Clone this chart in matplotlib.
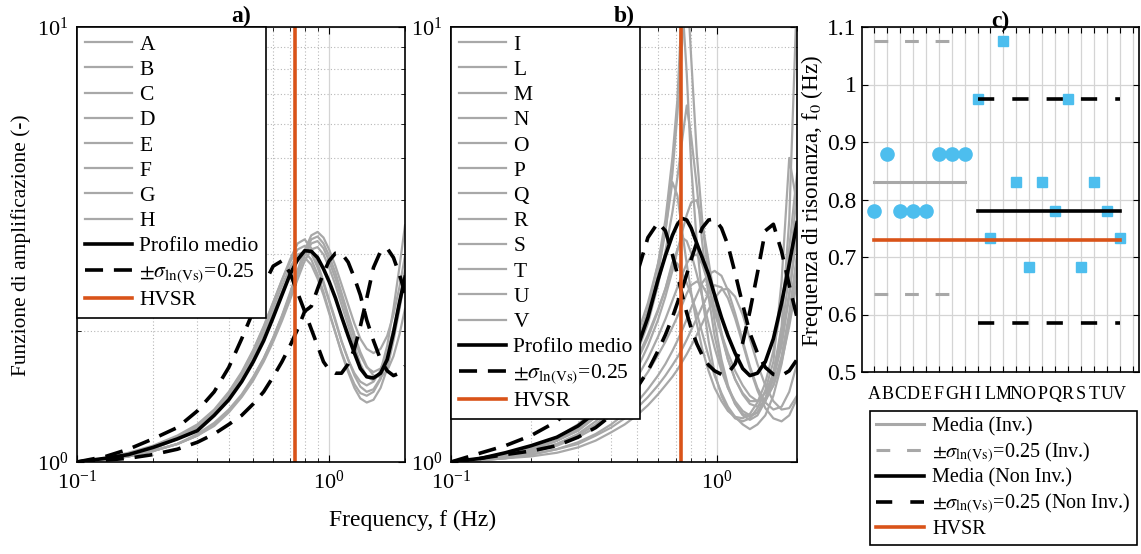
import matplotlib
matplotlib.use('Agg')
import matplotlib.pyplot as plt
from matplotlib.ticker import FixedLocator, NullFormatter, LogFormatterMathtext

plt.rcParams['font.family'] = ['Liberation Serif', 'DejaVu Serif']
plt.rcParams['mathtext.fontset'] = 'stix'

# ---------------- Data ----------------
# Panel a) frequency grid (Hz) and amplification curves
freq_a = [0.10, 0.13, 0.16, 0.20, 0.25, 0.30, 0.35, 0.40, 0.45, 0.50, 0.55, 0.60,
          0.65, 0.70, 0.75, 0.80, 0.85, 0.90, 0.95, 1.00, 1.06, 1.12, 1.19, 1.26,
          1.33, 1.41, 1.50, 1.60, 1.70, 1.80, 1.90, 2.00]
labels_a = ['A', 'B', 'C', 'D', 'E', 'F', 'G', 'H']
amp_A = [1.00, 1.02, 1.04, 1.08, 1.14, 1.21, 1.31, 1.44, 1.60, 1.80, 2.04, 2.32, 2.62, 2.92, 3.18, 3.25,
         3.10, 2.86, 2.60, 2.36, 2.12, 1.90, 1.72, 1.58, 1.49, 1.45, 1.47, 1.56, 1.72, 1.97, 2.30, 2.70]
amp_B = [1.00, 1.01, 1.03, 1.06, 1.10, 1.15, 1.22, 1.31, 1.42, 1.55, 1.72, 1.92, 2.15, 2.42, 2.72, 3.02,
         3.25, 3.30, 3.18, 2.98, 2.72, 2.45, 2.18, 1.96, 1.79, 1.66, 1.58, 1.57, 1.62, 1.75, 1.96, 2.25]
amp_C = [1.00, 1.02, 1.04, 1.08, 1.14, 1.21, 1.31, 1.43, 1.58, 1.77, 2.00, 2.26, 2.54, 2.80, 3.00, 3.04,
         2.92, 2.70, 2.46, 2.22, 1.98, 1.78, 1.61, 1.48, 1.40, 1.37, 1.39, 1.48, 1.64, 1.90, 2.24, 2.65]
amp_D = [1.00, 1.02, 1.05, 1.09, 1.15, 1.22, 1.32, 1.45, 1.61, 1.81, 2.05, 2.33, 2.62, 2.88, 3.08, 3.14,
         3.02, 2.80, 2.57, 2.34, 2.10, 1.89, 1.72, 1.60, 1.53, 1.50, 1.53, 1.62, 1.78, 2.02, 2.34, 2.75]
amp_E = [1.00, 1.02, 1.04, 1.07, 1.13, 1.20, 1.29, 1.41, 1.55, 1.73, 1.95, 2.20, 2.46, 2.72, 2.90, 2.95,
         2.84, 2.64, 2.42, 2.20, 1.98, 1.79, 1.63, 1.51, 1.44, 1.42, 1.45, 1.55, 1.72, 1.98, 2.32, 2.75]
amp_F = [1.00, 1.01, 1.03, 1.06, 1.10, 1.15, 1.22, 1.31, 1.42, 1.56, 1.73, 1.93, 2.17, 2.45, 2.76, 3.07,
         3.32, 3.38, 3.28, 3.08, 2.82, 2.56, 2.30, 2.08, 1.92, 1.82, 1.78, 1.82, 1.95, 2.18, 2.52, 2.98]
amp_G = [1.00, 1.01, 1.03, 1.06, 1.10, 1.16, 1.23, 1.32, 1.43, 1.57, 1.73, 1.93, 2.16, 2.42, 2.70, 2.98,
         3.18, 3.22, 3.10, 2.90, 2.64, 2.38, 2.13, 1.92, 1.76, 1.65, 1.61, 1.64, 1.76, 1.97, 2.28, 2.70]
amp_H = [1.00, 1.01, 1.03, 1.06, 1.10, 1.15, 1.21, 1.30, 1.41, 1.54, 1.70, 1.89, 2.11, 2.36, 2.63, 2.90,
         3.08, 3.12, 3.00, 2.80, 2.55, 2.30, 2.06, 1.85, 1.68, 1.57, 1.54, 1.62, 1.85, 2.25, 2.80, 3.50]
mean_a = [1.00, 1.02, 1.04, 1.08, 1.13, 1.18, 1.28, 1.39, 1.53, 1.70, 1.90, 2.15, 2.42, 2.70, 2.92, 3.06,
          3.05, 2.95, 2.78, 2.60, 2.38, 2.16, 1.95, 1.78, 1.64, 1.57, 1.56, 1.60, 1.72, 1.98, 2.32, 2.66]
sig_lo_a = [1.00, 1.03, 1.07, 1.13, 1.20, 1.31, 1.45, 1.65, 1.92, 2.22, 2.55, 2.82, 2.90, 2.72, 2.45, 2.22,
            2.02, 1.85, 1.70, 1.63, 1.60, 1.60, 1.68, 1.82, 2.05, 2.38, 2.80, 3.05, 3.10, 2.95, 2.70, 2.45]
sig_hi_a = [1.00, 1.01, 1.02, 1.04, 1.07, 1.11, 1.16, 1.22, 1.28, 1.36, 1.45, 1.57, 1.70, 1.85, 2.02, 2.22,
            2.28, 2.50, 2.72, 2.90, 3.02, 3.02, 2.88, 2.65, 2.42, 2.12, 1.90, 1.72, 1.62, 1.58, 1.60, 1.66]
amps_a = [amp_A, amp_B, amp_C, amp_D, amp_E, amp_F, amp_G, amp_H]

# Panel b) frequency grid (Hz) and amplification curves
freq_b = [0.10, 0.13, 0.16, 0.20, 0.25, 0.30, 0.35, 0.40, 0.45, 0.50, 0.55, 0.60,
          0.64, 0.68, 0.71, 0.74, 0.77, 0.80, 0.84, 0.88, 0.93, 0.98, 1.04, 1.10,
          1.17, 1.25, 1.33, 1.42, 1.52, 1.63, 1.75, 1.87, 2.00]
labels_b = ['I', 'L', 'M', 'N', 'O', 'P', 'Q', 'R', 'S', 'T', 'U', 'V']
amp_I = [1.00, 1.01, 1.02, 1.04, 1.07, 1.11, 1.16, 1.22, 1.29, 1.37, 1.47, 1.58, 1.68, 1.80, 1.90, 2.01, 2.13,
         2.26, 2.42, 2.58, 2.70, 2.75, 2.68, 2.48, 2.20, 1.90, 1.66, 1.48, 1.37, 1.32, 1.34, 1.45, 1.68]
amp_L = [1.00, 1.02, 1.04, 1.07, 1.12, 1.19, 1.29, 1.42, 1.60, 1.86, 2.25, 2.85, 3.60, 5.00, 6.80, 11.5, 7.80,
         4.80, 3.20, 2.40, 1.90, 1.60, 1.42, 1.32, 1.26, 1.24, 1.26, 1.33, 1.46, 1.70, 2.60, 5.00, 3.90]
amp_M = [1.00, 1.01, 1.02, 1.03, 1.05, 1.08, 1.12, 1.17, 1.22, 1.28, 1.35, 1.43, 1.50, 1.57, 1.63, 1.70, 1.77,
         1.85, 1.96, 2.08, 2.24, 2.38, 2.49, 2.50, 2.40, 2.18, 1.92, 1.68, 1.50, 1.38, 1.32, 1.33, 1.42]
amp_N = [1.00, 1.01, 1.03, 1.06, 1.10, 1.16, 1.24, 1.34, 1.47, 1.63, 1.85, 2.12, 2.40, 2.75, 3.05, 3.38, 3.70,
         3.95, 4.00, 3.55, 2.90, 2.38, 1.98, 1.72, 1.55, 1.44, 1.38, 1.38, 1.44, 1.60, 1.90, 2.45, 3.40]
amp_O = [1.00, 1.02, 1.05, 1.08, 1.14, 1.22, 1.33, 1.48, 1.68, 1.95, 2.32, 2.85, 3.40, 4.40, 4.10, 3.40, 2.85,
         2.45, 2.08, 1.82, 1.62, 1.48, 1.38, 1.31, 1.27, 1.26, 1.29, 1.37, 1.52, 1.80, 2.30, 3.10, 4.60]
amp_P = [1.00, 1.01, 1.03, 1.05, 1.09, 1.14, 1.20, 1.28, 1.37, 1.48, 1.61, 1.76, 1.89, 2.04, 2.16, 2.30, 2.44,
         2.55, 2.60, 2.55, 2.40, 2.20, 1.97, 1.78, 1.62, 1.50, 1.42, 1.38, 1.40, 1.50, 1.70, 2.05, 2.60]
amp_Q = [1.00, 1.02, 1.04, 1.07, 1.12, 1.19, 1.28, 1.40, 1.56, 1.78, 2.08, 2.55, 3.05, 3.75, 4.50, 5.50, 6.60,
         5.60, 4.30, 3.20, 2.40, 1.95, 1.66, 1.48, 1.36, 1.29, 1.27, 1.30, 1.40, 1.60, 1.98, 2.70, 4.20]
amp_R = [1.00, 1.01, 1.02, 1.04, 1.07, 1.10, 1.15, 1.20, 1.26, 1.33, 1.41, 1.50, 1.58, 1.67, 1.74, 1.82, 1.91,
         2.01, 2.14, 2.28, 2.44, 2.55, 2.52, 2.38, 2.14, 1.87, 1.64, 1.46, 1.33, 1.26, 1.24, 1.28, 1.40]
amp_S = [1.00, 1.02, 1.04, 1.07, 1.12, 1.18, 1.27, 1.39, 1.54, 1.73, 1.96, 2.24, 2.50, 2.88, 2.86, 2.72, 2.58,
         2.42, 2.20, 1.98, 1.75, 1.58, 1.44, 1.34, 1.27, 1.22, 1.19, 1.22, 1.28, 1.42, 1.68, 2.10, 2.80]
amp_T = [1.00, 1.01, 1.03, 1.06, 1.10, 1.15, 1.22, 1.31, 1.42, 1.56, 1.73, 1.94, 2.13, 2.35, 2.52, 2.70, 2.86,
         2.97, 3.00, 2.85, 2.56, 2.25, 1.95, 1.72, 1.55, 1.43, 1.36, 1.34, 1.38, 1.50, 1.75, 2.20, 3.00]
amp_U = [1.00, 1.02, 1.04, 1.07, 1.12, 1.19, 1.28, 1.40, 1.57, 1.80, 2.15, 2.70, 3.40, 4.60, 6.30, 9.20, 13.0,
         8.50, 5.10, 3.60, 2.65, 2.10, 1.72, 1.50, 1.36, 1.28, 1.25, 1.28, 1.38, 1.60, 2.05, 3.60, 12.0]
amp_V = [1.00, 1.02, 1.04, 1.07, 1.12, 1.18, 1.27, 1.38, 1.52, 1.70, 1.93, 2.22, 2.50, 2.84, 3.08, 3.28, 3.22,
         3.02, 2.70, 2.40, 2.08, 1.83, 1.62, 1.48, 1.38, 1.31, 1.28, 1.30, 1.38, 1.55, 1.85, 2.40, 3.40]
mean_b = [1.00, 1.02, 1.05, 1.09, 1.14, 1.21, 1.30, 1.42, 1.58, 1.82, 2.15, 2.62, 2.98, 3.32, 3.52, 3.63, 3.60,
          3.45, 3.18, 2.95, 2.70, 2.42, 2.15, 1.95, 1.78, 1.64, 1.58, 1.60, 1.70, 1.92, 2.32, 2.85, 3.55]
sig_lo_b = [1.00, 1.05, 1.09, 1.15, 1.24, 1.38, 1.56, 1.82, 2.18, 2.70, 3.28, 3.55, 3.40, 3.00, 2.70, 2.42, 2.20,
            2.03, 1.87, 1.76, 1.67, 1.62, 1.59, 1.60, 1.68, 1.88, 2.22, 2.72, 3.40, 3.52, 3.05, 2.55, 2.15]
sig_hi_b = [1.00, 1.02, 1.04, 1.06, 1.09, 1.14, 1.20, 1.28, 1.37, 1.48, 1.62, 1.80, 1.96, 2.15, 2.32, 2.50, 2.70,
            2.92, 3.20, 3.45, 3.60, 3.62, 3.45, 3.15, 2.72, 2.30, 1.98, 1.78, 1.65, 1.59, 1.58, 1.62, 1.72]
amps_b = [amp_I, amp_L, amp_M, amp_N, amp_O, amp_P, amp_Q, amp_R, amp_S, amp_T, amp_U, amp_V]

hvsr_f0 = 0.73

# Panel c) resonance frequencies
cat_c = ['A', 'B', 'C', 'D', 'E', 'F', 'G', 'H', 'I', 'L', 'M', 'N', 'O', 'P', 'Q', 'R', 'S', 'T', 'U', 'V']
f0_inv = [0.78, 0.88, 0.78, 0.78, 0.78, 0.88, 0.88, 0.88]             # A-H
f0_noninv = [0.975, 0.733, 1.075, 0.83, 0.683, 0.83, 0.78, 0.975,
             0.683, 0.83, 0.78, 0.733]                                  # I-V
media_inv = 0.83
sig_inv = [0.635, 1.075]
media_noninv = 0.78
sig_noninv = [0.585, 0.975]

# ---------------- Style ----------------
GRAY = '#a8a8a8'
ORANGE = '#D95319'
BLUE = '#4DBEEE'
sig_label = r'$\pm\sigma_{\mathrm{ln(Vs)}}$=0.25'

fig = plt.figure(figsize=(11.41, 5.54), dpi=100)
W, H = 1141.0, 554.0


def ax_px(l, t, r, b):
    return fig.add_axes([l / W, 1 - b / H, (r - l) / W, (b - t) / H])


def setup_log(ax):
    ax.set_xscale('log')
    ax.set_yscale('log')
    ax.set_xlim(0.1, 2.0)
    ax.set_ylim(1, 10)
    ax.xaxis.set_major_locator(FixedLocator([0.1, 1.0]))
    ax.xaxis.set_minor_locator(FixedLocator([0.2, 0.3, 0.4, 0.5, 0.6, 0.7, 0.8, 0.9, 2.0]))
    ax.yaxis.set_major_locator(FixedLocator([1, 10]))
    ax.yaxis.set_minor_locator(FixedLocator([2, 3, 4, 5, 6, 7, 8, 9]))
    ax.xaxis.set_major_formatter(LogFormatterMathtext())
    ax.yaxis.set_major_formatter(LogFormatterMathtext())
    ax.xaxis.set_minor_formatter(NullFormatter())
    ax.yaxis.set_minor_formatter(NullFormatter())
    ax.grid(which='major', color='#d4d4d4', lw=0.9, ls='-')
    ax.grid(which='minor', color='#b8b8b8', lw=0.8, ls=(0, (1, 2)))
    ax.set_axisbelow(True)
    ax.tick_params(which='both', direction='in', top=True, right=True, labelsize=16, pad=6)
    ax.tick_params(which='major', length=5)
    ax.tick_params(which='minor', length=3)
    for s in ax.spines.values():
        s.set_linewidth(1.2)


def draw_panel(ax, freq, amps, labels, mean, lo, hi):
    for amp, lab in zip(amps, labels):
        ax.plot(freq, amp, color=GRAY, lw=1.6, label=lab)
    ax.plot(freq, mean, color='black', lw=2.6, label='Profilo medio')
    ax.plot(freq, lo, color='black', lw=2.6, dashes=(5, 3), label=sig_label)
    ax.plot(freq, hi, color='black', lw=2.6, dashes=(5, 3))
    ax.axvline(hvsr_f0, color=ORANGE, lw=2.6, label='HVSR')
    leg = ax.legend(loc='upper left', borderaxespad=0, fancybox=False, edgecolor='black',
                    framealpha=1, fontsize=15.5, handlelength=2.2, labelspacing=0.24,
                    borderpad=0.35, handletextpad=0.35)
    leg.get_frame().set_linewidth(1.2)


# Panel a
ax_a = ax_px(77, 27, 405, 462)
setup_log(ax_a)
draw_panel(ax_a, freq_a, amps_a, labels_a, mean_a, sig_lo_a, sig_hi_a)
ax_a.set_title('a)', fontweight='bold', fontsize=17, pad=0)

# Panel b
ax_b = ax_px(451, 27, 797, 462)
setup_log(ax_b)
draw_panel(ax_b, freq_b, amps_b, labels_b, mean_b, sig_lo_b, sig_hi_b)
ax_b.set_title('b)', fontweight='bold', fontsize=17, pad=0)

fig.text(21 / W, 1 - 245 / H, 'Funzione di amplificazione (-)', rotation=90,
         ha='center', va='center', fontsize=15.4)
fig.text(413 / W, 1 - 520 / H, 'Frequency, f (Hz)', ha='center', va='center', fontsize=17)

# Panel c
ax_c = ax_px(862, 27, 1139, 372)
xs_inv = list(range(1, 9))
xs_non = list(range(9, 21))
ax_c.plot(xs_inv, f0_inv, 'o', color=BLUE, ms=9.5, mec=BLUE, zorder=3)
ax_c.plot(xs_non, f0_noninv, 's', color=BLUE, ms=7.5, mec=BLUE, zorder=3)
ax_c.plot([1, 8], [media_inv, media_inv], color=GRAY, lw=2.2, label='Media (Inv.)', zorder=4)
ax_c.plot([1, 8], [sig_inv[0], sig_inv[0]], color=GRAY, lw=2.2, dashes=(4.5, 5.5),
          label=sig_label + ' (Inv.)', zorder=4)
ax_c.plot([1, 8], [sig_inv[1], sig_inv[1]], color=GRAY, lw=2.2, dashes=(4.5, 5.5), zorder=4)
ax_c.plot([9, 20], [media_noninv, media_noninv], color='black', lw=2.6,
          label='Media (Non Inv.)', zorder=4)
ax_c.plot([9, 20], [sig_noninv[0], sig_noninv[0]], color='black', lw=2.6, dashes=(4.5, 5),
          label=sig_label + ' (Non Inv.)', zorder=4)
ax_c.plot([9, 20], [sig_noninv[1], sig_noninv[1]], color='black', lw=2.6, dashes=(4.5, 5), zorder=4)
ax_c.plot([1, 20], [hvsr_f0, hvsr_f0], color=ORANGE, lw=2.6, label='HVSR', zorder=4)
ax_c.set_xlim(0.05, 21.5)
ax_c.set_ylim(0.5, 1.1)
ax_c.set_xticks(list(range(1, 22)))
ax_c.set_xticklabels(cat_c + [''])
ax_c.set_yticks([0.5, 0.6, 0.7, 0.8, 0.9, 1.0, 1.1])
ax_c.set_yticklabels(['0.5', '0.6', '0.7', '0.8', '0.9', '1', '1.1'])
ax_c.grid(True, color='#d4d4d4', lw=0.9)
ax_c.set_axisbelow(True)
ax_c.tick_params(direction='in', top=True, right=True, length=4)
ax_c.tick_params(axis='y', labelsize=17, pad=4)
ax_c.tick_params(axis='x', labelsize=13, pad=10)
for s in ax_c.spines.values():
    s.set_linewidth(1.2)
ax_c.set_title('c)', fontweight='bold', fontsize=17, pad=0)
fig.text(812 / W, 1 - 201 / H, r'Frequenza di risonanza, f$_0$ (Hz)', rotation=90,
         ha='center', va='center', fontsize=16.7)
leg_c = fig.legend(*ax_c.get_legend_handles_labels(), loc='upper left',
                   bbox_to_anchor=(870 / W, 1 - 411 / H), borderaxespad=0, fancybox=False,
                   edgecolor='black', framealpha=1, fontsize=14.5, handlelength=2.4,
                   labelspacing=0.2, borderpad=0.3, handletextpad=0.4)
leg_c.get_frame().set_linewidth(1.2)

fig.savefig('out.png', dpi=100)
